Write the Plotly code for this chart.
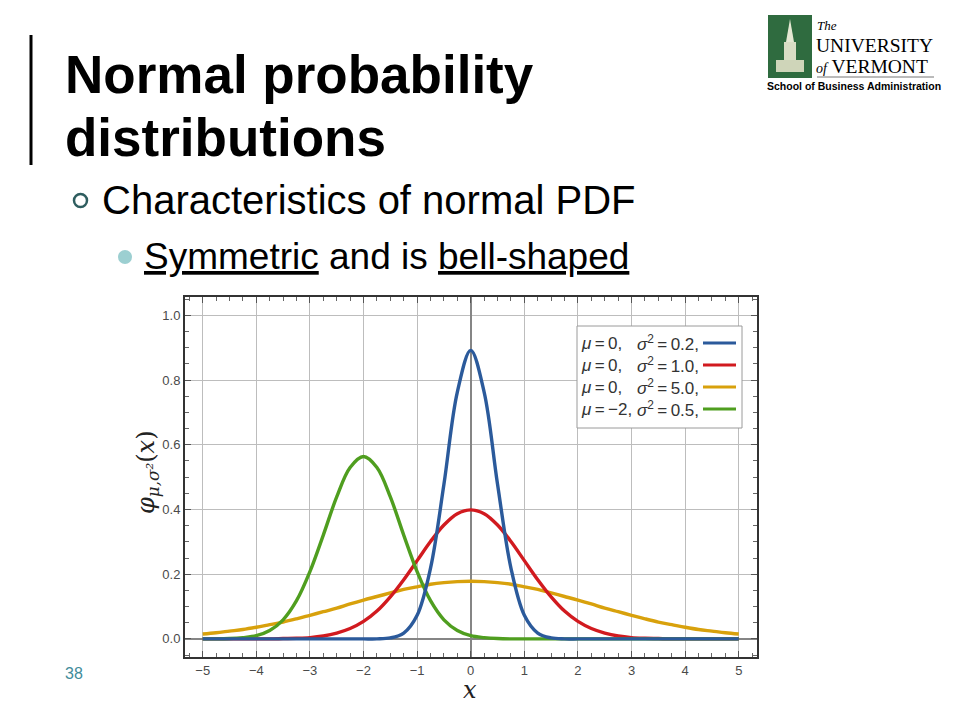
import plotly.graph_objects as go

# ---------------- data ----------------
x_values = [-5, -4.75, -4.5, -4.25, -4, -3.75, -3.5, -3.25, -3, -2.75,
            -2.5, -2.25, -2, -1.75, -1.5, -1.25, -1, -0.75, -0.5, -0.25,
            0, 0.25, 0.5, 0.75, 1, 1.25, 1.5, 1.75, 2, 2.25,
            2.5, 2.75, 3, 3.25, 3.5, 3.75, 4, 4.25, 4.5, 4.75, 5]

blue_var02 = [0, 0, 0, 0, 0, 0, 0, 0, 0, 0,
              0, 0, 0, 0, 0.003, 0.018, 0.073, 0.219, 0.478, 0.763,
              0.892, 0.763, 0.478, 0.219, 0.073, 0.018, 0.003, 0, 0, 0,
              0, 0, 0, 0, 0, 0, 0, 0, 0, 0, 0]

red_var10 = [0, 0, 0, 0, 0, 0, 0.001, 0.002, 0.004, 0.009,
             0.018, 0.032, 0.054, 0.086, 0.130, 0.183, 0.242, 0.301, 0.352, 0.387,
             0.399, 0.387, 0.352, 0.301, 0.242, 0.183, 0.130, 0.086, 0.054, 0.032,
             0.018, 0.009, 0.004, 0.002, 0.001, 0, 0, 0, 0, 0, 0]

yellow_var50 = [0.015, 0.019, 0.024, 0.029, 0.036, 0.044, 0.052, 0.062, 0.073, 0.084,
                0.095, 0.108, 0.120, 0.131, 0.142, 0.153, 0.161, 0.169, 0.174, 0.177,
                0.178, 0.177, 0.174, 0.169, 0.161, 0.153, 0.142, 0.131, 0.120, 0.108,
                0.095, 0.084, 0.073, 0.062, 0.052, 0.044, 0.036, 0.029, 0.024, 0.019, 0.015]

green_mu_m2_var05 = [0, 0, 0.001, 0.004, 0.010, 0.026, 0.059, 0.118, 0.208, 0.321,
                     0.439, 0.530, 0.564, 0.530, 0.439, 0.321, 0.208, 0.118, 0.059, 0.026,
                     0.010, 0.004, 0.001, 0, 0, 0, 0, 0, 0, 0,
                     0, 0, 0, 0, 0, 0, 0, 0, 0, 0, 0]

legend_mu = ["0", "0", "0", "\u22122"]
legend_var = ["0.2", "1.0", "5.0", "0.5"]

x_ticks = [-5, -4, -3, -2, -1, 0, 1, 2, 3, 4, 5]
y_ticks = [0.0, 0.2, 0.4, 0.6, 0.8, 1.0]

# ---------------- styling ----------------
# the page body has an 8px margin, so the figure is drawn 8px in from the corner
OFF = 8
W, H = 944, 704
C_BLUE = "#2b5a9b"
C_RED = "#d11a1f"
C_YELLOW = "#d8a10c"
C_GREEN = "#4f9e1f"
colors = [C_BLUE, C_RED, C_YELLOW, C_GREEN]
THIN = "\u2009"


def px(x):
    return (x - OFF) / W


def py(y):
    return 1 - (y - OFF) / H


fig = go.Figure()
series = [(yellow_var50, C_YELLOW), (red_var10, C_RED),
          (green_mu_m2_var05, C_GREEN), (blue_var02, C_BLUE)]
for ys, c in series:
    fig.add_trace(go.Scatter(x=x_values, y=ys, mode="lines",
                             line=dict(color=c, width=3.4, shape="spline", smoothing=1.0),
                             showlegend=False, hoverinfo="skip"))

axis_common = dict(
    showline=True, linecolor="#333333", linewidth=2, mirror="allticks",
    ticks="inside", ticklen=6, tickcolor="#555", tickwidth=1,
    showgrid=True, gridcolor="#bdbdbd", gridwidth=1,
    zeroline=True, zerolinecolor="#858585", zerolinewidth=2,
    tickfont=dict(family="Liberation Sans, Arial", size=13, color="#4a4a4a"),
)

fig.update_xaxes(**axis_common, range=[-5.33, 5.34], tickvals=x_ticks,
                 domain=[px(185), px(757)],
                 minor=dict(dtick=0.25, ticks="inside", ticklen=4, tickcolor="#666", showgrid=False))
fig.update_yaxes(**axis_common, range=[-0.056, 1.057], tickvals=y_ticks,
                 tickformat=".1f",
                 domain=[py(657), py(297)],
                 minor=dict(dtick=0.05, ticks="inside", ticklen=4, tickcolor="#666", showgrid=False))

shapes = []
annotations = []

# left title bar
shapes.append(dict(type="line", xref="paper", yref="paper", x0=px(31), x1=px(31),
                   y0=py(35), y1=py(165), line=dict(color="black", width=3)))

# title
TITLE_FONT = dict(family="Liberation Sans, Arial", size=53, color="black")
annotations.append(dict(x=px(63), y=py(74), xref="paper", yref="paper", xanchor="left", yanchor="middle",
                        text="<b>Normal probability</b>", showarrow=False, font=TITLE_FONT))
annotations.append(dict(x=px(63), y=py(137), xref="paper", yref="paper", xanchor="left", yanchor="middle",
                        text="<b>distributions</b>", showarrow=False, font=TITLE_FONT))

# bullets
shapes.append(dict(type="circle", xref="paper", yref="paper",
                   x0=px(74), x1=px(87), y0=py(194), y1=py(207),
                   line=dict(color="#2e5d5f", width=2.5), fillcolor="white"))
annotations.append(dict(x=px(100), y=py(200), xref="paper", yref="paper", xanchor="left", yanchor="middle",
                        text="Characteristics of normal PDF", showarrow=False,
                        font=dict(family="Liberation Sans, Arial", size=40, color="black")))
shapes.append(dict(type="circle", xref="paper", yref="paper",
                   x0=px(118), x1=px(132), y0=py(250), y1=py(264),
                   line=dict(color="#9ccfd1", width=0), fillcolor="#9ccfd1"))
annotations.append(dict(x=px(142), y=py(256), xref="paper", yref="paper", xanchor="left", yanchor="middle",
                        text="<u>Symmetric</u> and is <u>bell-shaped</u>", showarrow=False,
                        font=dict(family="Liberation Sans, Arial", size=37, color="black")))

# page number
annotations.append(dict(x=px(63), y=py(673), xref="paper", yref="paper", xanchor="left", yanchor="middle",
                        text="38", showarrow=False,
                        font=dict(family="Liberation Sans, Arial", size=16, color="#3f8c9a")))

# axis titles
annotations.append(dict(x=px(147), y=py(472), xref="paper", yref="paper", xanchor="center", yanchor="middle",
                        text="<i>\u03c6</i><sub><i>\u03bc,\u03c3\u00b2</i></sub>(<i>x</i>)", showarrow=False,
                        textangle=-90, borderpad=0,
                        font=dict(family="DejaVu Serif", size=24, color="#222")))
annotations.append(dict(x=px(470), y=py(690), xref="paper", yref="paper", xanchor="center", yanchor="middle",
                        text="<i>x</i>", showarrow=False, borderpad=0,
                        font=dict(family="DejaVu Serif", size=24, color="#222")))

# legend box
shapes.append(dict(type="rect", xref="paper", yref="paper", x0=px(577), x1=px(742),
                   y0=py(326), y1=py(428), line=dict(color="#9a9a9a", width=1),
                   fillcolor="white", layer="above"))
row_y = [343, 365, 387, 409]
LEG_FONT = dict(family="Liberation Sans, Arial", size=17, color="#333")
for i in range(4):
    annotations.append(dict(x=px(580), y=py(row_y[i]), xref="paper", yref="paper",
                            xanchor="left", yanchor="middle", borderpad=0,
                            text="<i>\u03bc</i>" + THIN + "=" + THIN + legend_mu[i] + ",",
                            showarrow=False, font=LEG_FONT))
    annotations.append(dict(x=px(636), y=py(row_y[i]), xref="paper", yref="paper",
                            xanchor="left", yanchor="middle", borderpad=0,
                            text="<i>\u03c3</i><sup>2</sup>" + THIN + "=" + THIN + legend_var[i] + ",",
                            showarrow=False, font=LEG_FONT))
    shapes.append(dict(type="line", xref="paper", yref="paper", x0=px(703), x1=px(736),
                       y0=py(row_y[i]), y1=py(row_y[i]), line=dict(color=colors[i], width=3),
                       layer="above"))

# logo
shapes.append(dict(type="rect", xref="paper", yref="paper", x0=px(768), x1=px(812),
                   y0=py(78), y1=py(15), line=dict(width=0), fillcolor="#2f6b3f"))
tower = ("M {a},{b} L {c},{d} L {e},{d} Z".format(a=px(790), b=py(19), c=px(786), d=py(42), e=px(794)))
shapes.append(dict(type="path", xref="paper", yref="paper", path=tower,
                   fillcolor="#e4e8d2", line=dict(width=0)))
shapes.append(dict(type="rect", xref="paper", yref="paper", x0=px(784), x1=px(796),
                   y0=py(60), y1=py(42), fillcolor="#d8ddc4", line=dict(width=0)))
shapes.append(dict(type="rect", xref="paper", yref="paper", x0=px(776), x1=px(804),
                   y0=py(72), y1=py(60), fillcolor="#cfd5b9", line=dict(width=0)))
annotations.append(dict(x=px(816), y=py(26), xref="paper", yref="paper", xanchor="left", yanchor="middle",
                        text="<i>The</i>", showarrow=False, borderpad=0,
                        font=dict(family="Liberation Serif", size=13, color="black")))
annotations.append(dict(x=px(815), y=py(46), xref="paper", yref="paper", xanchor="left", yanchor="middle",
                        text="UNIVERSITY", showarrow=False, borderpad=0,
                        font=dict(family="Liberation Serif", size=19.5, color="black")))
annotations.append(dict(x=px(815), y=py(66), xref="paper", yref="paper", xanchor="left", yanchor="middle",
                        text="<i><span style='font-size:14px'>of</span></i> VERMONT", showarrow=False,
                        borderpad=0,
                        font=dict(family="Liberation Serif", size=19.5, color="black")))
shapes.append(dict(type="line", xref="paper", yref="paper", x0=px(817), x1=px(934),
                   y0=py(77), y1=py(77), line=dict(color="#777", width=1)))
annotations.append(dict(x=px(766), y=py(86), xref="paper", yref="paper", xanchor="left", yanchor="middle",
                        text="<b>School of Business Administration</b>", showarrow=False, borderpad=0,
                        font=dict(family="Liberation Sans, Arial", size=10.5, color="black")))

fig.update_layout(
    width=W, height=H, margin=dict(l=0, r=0, t=0, b=0),
    paper_bgcolor="white", plot_bgcolor="white",
    shapes=shapes, annotations=annotations, showlegend=False,
)

fig.write_html("out.html")
